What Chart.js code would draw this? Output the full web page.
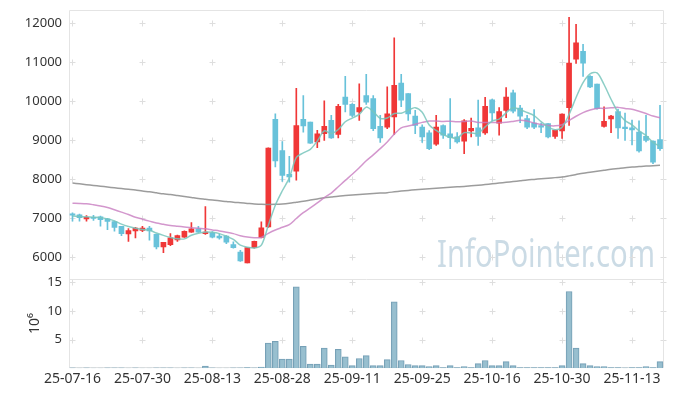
<!DOCTYPE html>
<html>
<head>
    <title>Candles</title>
    <style>
        body { margin: 0; background: #fff; }
        #chart-container { width: 673px; height: 396px; }
    </style>
    <script src="https://cdn.jsdelivr.net/npm/chart.js"></script>
</head>
<body>
<div id="chart-container"><canvas id="chart"></canvas></div>
<script>
const dates = [
    '25-07-16','25-07-17','25-07-18','25-07-21','25-07-22','25-07-23','25-07-24','25-07-25','25-07-28','25-07-29','25-07-30','25-07-31',
    '25-08-01','25-08-04','25-08-05','25-08-06','25-08-07','25-08-08','25-08-11','25-08-12','25-08-13','25-08-14','25-08-18','25-08-19',
    '25-08-20','25-08-21','25-08-22','25-08-25','25-08-26','25-08-27','25-08-28','25-08-29',
    '25-09-01','25-09-02','25-09-03','25-09-04','25-09-05','25-09-08','25-09-09','25-09-10','25-09-11','25-09-12','25-09-15','25-09-16',
    '25-09-17','25-09-18','25-09-19','25-09-22','25-09-23','25-09-24','25-09-25','25-09-26','25-09-29','25-09-30',
    '25-10-01','25-10-02','25-10-10','25-10-13','25-10-14','25-10-15','25-10-16','25-10-17','25-10-20','25-10-21','25-10-22','25-10-23',
    '25-10-24','25-10-27','25-10-28','25-10-29','25-10-30','25-10-31',
    '25-11-03','25-11-04','25-11-05','25-11-06','25-11-07','25-11-10','25-11-11','25-11-12','25-11-13','25-11-14','25-11-17','25-11-18','25-11-19'
];

const opens = [
    7120,7090,6990,7020,7040,6990,6920,6800,6600,6680,
    6690,6750,6590,6270,6330,6450,6520,6650,6730,6610,
    6630,6550,6550,6330,6140,5860,6250,6510,6780,9540,
    8740,8130,8210,9540,9470,8960,9170,9510,9150,10110,
    9920,9730,10150,10070,9360,9340,9600,10470,10200,9620,
    9340,9190,8900,9380,9170,9090,8980,9240,9320,9190,
    10040,9440,9770,10220,9830,9560,9440,9380,9430,9100,
    9240,9840,11080,11280,10640,10440,9360,9550,9740,9340,
    9320,9210,9100,8980,9020
];
const highs = [
    7140,7110,7070,7080,7060,7000,6930,6800,6740,6770,
    6800,6800,6600,6390,6610,6570,6680,6890,6800,7300,
    6660,6590,6560,6400,6180,6260,6420,6910,8810,9680,
    8970,8590,10330,10150,9470,9260,10010,9640,9920,10640,
    9940,10450,10690,10150,9640,10370,11630,10690,10200,9770,
    9400,9250,9640,9400,10070,9200,9530,9570,10030,10100,
    10060,9840,10350,10290,9900,9640,9790,9440,9430,9270,
    9680,12150,11970,11460,10660,10440,9860,9640,9800,9700,
    9520,9500,9640,8990,9900
];
const lows = [
    6930,6930,6930,6950,6800,6710,6670,6560,6410,6500,
    6660,6440,6220,6120,6300,6410,6510,6640,6640,6590,
    6500,6470,6350,6240,5900,5860,6240,6500,6770,8320,
    7950,7930,7980,9210,8920,8810,9000,9050,9060,9730,
    9600,9510,9920,9250,8950,9300,9150,9860,9510,9170,
    8950,8760,8870,9050,8790,8930,8660,9090,8870,9150,
    9500,9130,9580,9700,9450,9300,9300,9200,9060,9050,
    9050,9380,10970,10640,10350,9800,9340,9200,9050,9000,
    8880,8700,8960,8400,8740
];
const closes = [
    7080,7020,7030,7000,6970,6920,6770,6610,6690,6750,
    6750,6680,6270,6390,6500,6560,6670,6730,6650,6650,
    6520,6500,6390,6250,5910,6250,6410,6760,8800,8470,
    8100,8060,9380,9370,8930,9170,9360,9060,9870,9920,
    9640,9840,9980,9300,9060,9680,10410,10030,9680,9380,
    9090,8790,9340,9130,9070,8960,9500,9310,9100,9870,
    9700,9740,10110,9750,9620,9340,9340,9340,9090,9260,
    9670,10980,11500,10980,10370,9810,9490,9620,9320,9300,
    9270,8730,9000,8440,8790
];

// moving averages as drawn (5, 20, 120 day)
const ma5 = [
    7060,7050,7040,7030,7020,6988,6938,6854,6792,6748,
    6714,6695,6626,6565,6514,6477,6475,6567,6620,6651,
    6643,6610,6543,6463,6314,6260,6241,6314,6825,7338,
    7709,8039,8564,8677,8769,8982,9242,9177,9278,9477,
    9571,9667,9851,9736,9564,9572,9687,9696,9773,9838,
    9718,9393,9256,9145,9082,9056,9197,9191,9185,9346,
    9495,9545,9706,9836,9784,9712,9632,9478,9345,9273,
    9338,9666,10099,10478,10701,10730,10431,10053,9719,9506,
    9398,9246,9123,8948,8846
];
const ma20 = [
    7390,7385,7375,7350,7320,7280,7220,7160,7100,7030,
    6980,6930,6880,6850,6820,6800,6780,6760,6745,6733,
    6705,6680,6648,6610,6557,6523,6505,6513,6618,6704,
    6772,6841,6997,7146,7268,7398,7533,7650,7811,7974,
    8130,8297,8477,8629,8787,8959,9159,9322,9366,9412,
    9461,9497,9495,9483,9490,9479,9486,9498,9460,9457,
    9460,9456,9462,9485,9512,9495,9442,9408,9378,9371,
    9400,9510,9618,9711,9776,9819,9819,9834,9845,9816,
    9795,9744,9688,9623,9581
];
const ma120 = [
    7905,7885,7865,7845,7825,7805,7785,7765,7745,7725,
    7700,7680,7655,7630,7610,7585,7560,7535,7510,7490,
    7470,7450,7435,7415,7400,7385,7370,7360,7358,7362,
    7372,7390,7415,7440,7470,7500,7530,7550,7570,7585,
    7600,7612,7625,7637,7648,7660,7680,7700,7718,7735,
    7750,7762,7775,7788,7800,7810,7820,7835,7850,7868,
    7885,7905,7925,7945,7965,7985,8000,8015,8030,8045,
    8060,8090,8125,8160,8185,8210,8235,8260,8280,8300,
    8315,8330,8340,8350,8360
];

// volume in millions
const volumes = [
    0.05,0.04,0.05,0.03,0.04,0.05,0.06,0.05,0.04,0.05,
    0.03,0.04,0.08,0.06,0.05,0.04,0.05,0.06,0.04,0.35,
    0.08,0.04,0.04,0.05,0.08,0.1,0.06,0.2,4.4,4.7,
    1.6,1.6,14.2,3.8,0.7,0.7,3.5,0.55,3.3,2.0,
    0.45,1.7,2.2,0.45,0.45,1.5,11.6,1.35,0.65,0.45,
    0.45,0.3,0.45,0.1,0.45,0.1,0.3,0.1,0.8,1.35,
    0.45,0.45,1.15,0.45,0.1,0.1,0.1,0.1,0.1,0.1,
    0.45,13.4,3.5,0.8,0.45,0.3,0.3,0.1,0.1,0.05,
    0.1,0.1,0.3,0.1,1.15
];

const priceTicks = [6000, 7000, 8000, 9000, 10000, 11000, 12000];
const volumeTicks = [5, 10, 15];
const watermark = 'InfoPointer.com';

const UP = 'rgb(240,55,55)';
const DOWN = 'rgb(104,194,218)';
const FONT = '"Noto Sans", sans-serif';

const candleColors = opens.map((o, i) => closes[i] >= o ? UP : DOWN);

// keep the axis 69px wide and stop its labels from pushing the plot down
function fixAxis(s) {
    s.width = 69;
    s.paddingTop = 0;
    s.paddingBottom = 0;
}

// frame, "+" grid marks and the watermark
const framePlugin = {
    id: 'framePlugin',
    beforeDatasetsDraw(chart) {
        const { ctx, chartArea: a, scales } = chart;
        const x = scales.x, y = scales.y, yv = scales.yv;
        ctx.save();

        // watermark
        ctx.fillStyle = 'rgba(185,207,220,0.75)';
        ctx.font = '38px ' + FONT;
        ctx.textBaseline = 'alphabetic';
        const w = ctx.measureText(watermark).width;
        ctx.save();
        ctx.translate(437, 267);
        ctx.scale(218 / w, 1);
        ctx.fillText(watermark, 0, 0);
        ctx.restore();

        // grid crosses
        const cols = [];
        for (let i = 0; i < dates.length; i += 10) cols.push(Math.round(x.getPixelForValue(i)) + 0.5);
        cols.push(Math.round(a.right) - 0.5);
        const rows = priceTicks.map(v => Math.round(y.getPixelForValue(v)) + 0.5)
            .concat(volumeTicks.map(v => Math.round(yv.getPixelForValue(v)) + 0.5));
        ctx.strokeStyle = '#dedede';
        ctx.lineWidth = 1;
        ctx.beginPath();
        cols.forEach(cx => rows.forEach(ry => {
            ctx.moveTo(cx - 3, ry); ctx.lineTo(cx + 3, ry);
            ctx.moveTo(cx, ry - 3); ctx.lineTo(cx, ry + 3);
        }));
        ctx.stroke();

        // frame
        ctx.strokeStyle = '#e4e4e4';
        ctx.beginPath();
        const l = Math.round(a.left) + 0.5, r = Math.round(a.right) - 0.5;
        const t = Math.round(a.top) + 0.5, b = Math.round(a.bottom) - 0.5;
        const mid = Math.round(yv.top) + 0.5;
        ctx.moveTo(l, t); ctx.lineTo(r, t);
        ctx.moveTo(l, t); ctx.lineTo(l, b);
        ctx.moveTo(r, t); ctx.lineTo(r, b);
        ctx.moveTo(l, mid); ctx.lineTo(r, mid);
        ctx.moveTo(l, b); ctx.lineTo(r, b);
        ctx.stroke();
        ctx.restore();
    }
};

const ctx = document.getElementById('chart').getContext('2d');
new Chart(ctx, {
    type: 'bar',
    data: {
        labels: dates,
        datasets: [
            { type: 'line', data: ma5, yAxisID: 'y', borderColor: 'rgba(120,198,188,0.85)', borderWidth: 1.5, pointRadius: 0, tension: 0.3 },
            { type: 'line', data: ma20, yAxisID: 'y', borderColor: 'rgba(200,125,192,0.8)', borderWidth: 1.5, pointRadius: 0, tension: 0.3 },
            { type: 'line', data: ma120, yAxisID: 'y', borderColor: 'rgba(145,145,145,0.9)', borderWidth: 1.5, pointRadius: 0, tension: 0.3 },
            { data: opens.map((o, i) => [o, closes[i]]), yAxisID: 'y', backgroundColor: candleColors, barThickness: 5, grouped: false, minBarLength: 1 },
            { data: lows.map((lo, i) => [lo, highs[i]]), yAxisID: 'y', backgroundColor: candleColors, barThickness: 1, grouped: false },
            { data: volumes, yAxisID: 'yv', backgroundColor: 'rgba(146,188,204,0.95)', borderColor: 'rgb(118,160,182)', borderWidth: 1, barThickness: 6, grouped: false }
        ]
    },
    options: {
        responsive: true,
        maintainAspectRatio: false,
        animation: false,
        layout: { padding: { left: 0, top: 10, right: 9.5, bottom: 7 } },
        plugins: { legend: { display: false }, tooltip: { enabled: false } },
        scales: {
            x: {
                type: 'category',
                offset: true,
                grid: { display: false, drawTicks: false },
                border: { display: false },
                ticks: {
                    autoSkip: false, maxRotation: 0, padding: 2, color: '#333',
                    font: { size: 14, family: FONT },
                    callback: (v, i) => i % 10 === 0 ? dates[i] : null
                }
            },
            yv: {
                type: 'linear', position: 'left', stack: 'panes', stackWeight: 89,
                min: 0, max: 15.6,
                grid: { display: false, drawTicks: false },
                border: { display: false },
                afterBuildTicks: s => { s.ticks = volumeTicks.map(v => ({ value: v })); },
                afterFit: fixAxis,
                ticks: { autoSkip: false, padding: 7, color: '#333', font: { size: 13, family: FONT }, callback: v => String(v) },
                title: { display: true, text: '10\u2076', color: '#333', padding: { top: 27, bottom: 0 }, font: { size: 14, family: FONT } }
            },
            y: {
                type: 'linear', position: 'left', stack: 'panes', stackWeight: 268,
                min: 5450, max: 12340,
                grid: { display: false, drawTicks: false },
                border: { display: false },
                afterBuildTicks: s => { s.ticks = priceTicks.map(v => ({ value: v })); },
                afterFit: fixAxis,
                ticks: { autoSkip: false, padding: 7, color: '#333', font: { size: 13, family: FONT }, callback: v => String(v) }
            }
        }
    },
    plugins: [framePlugin]
});
</script>
</body>
</html>
